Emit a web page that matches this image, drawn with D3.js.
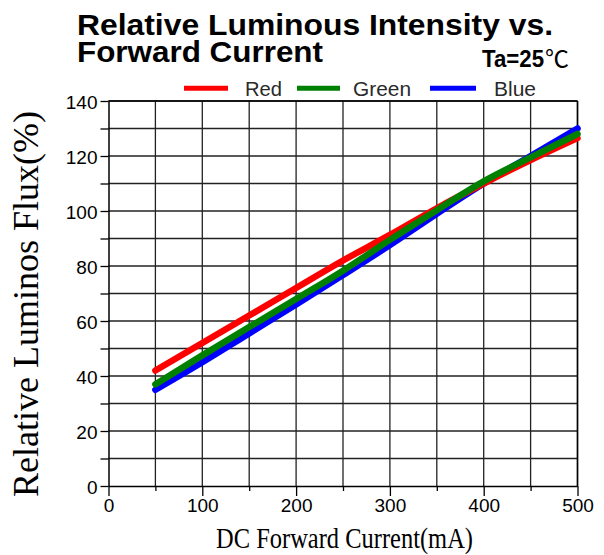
<!DOCTYPE html>
<html><head><meta charset="utf-8">
<script src="https://cdn.jsdelivr.net/npm/d3@7"></script>
<style>body{margin:0;background:#fff}svg{display:block}</style>
</head><body>
<script>
const currents = [50, 100, 150, 200, 250, 300, 350, 400, 450, 500];
const redVals   = [42, 52, 62, 72, 82, 91.3, 101, 110, 118.5, 126.5];
const greenVals = [37, 47.5, 57.8, 68, 78.3, 89.5, 100.3, 110.8, 119.5, 128];
const blueVals  = [35, 45, 55.5, 66, 76.7, 87.6, 99, 110, 120, 130];
const seriesNames = ["Red", "Green", "Blue"];
const seriesColors = ["#ff0000", "#008000", "#0000ff"];
const xTicks = [0, 50, 100, 150, 200, 250, 300, 350, 400, 450, 500];
const yTicks = [0, 10, 20, 30, 40, 50, 60, 70, 80, 90, 100, 110, 120, 130, 140];

const W = 604, H = 555;
const svg = d3.select("body").append("svg").attr("width", W).attr("height", H);
const x = d3.scaleLinear().domain([0, 500]).range([108.5, 577.5]);
const y = d3.scaleLinear().domain([0, 140]).range([486, 101]);

// grid
const g = svg.append("g");
g.selectAll(".vg").data(xTicks.filter(d => d > 0)).join("line")
  .attr("x1", d => x(d)).attr("x2", d => x(d)).attr("y1", y(140)).attr("y2", y(0))
  .attr("stroke", "#222").attr("stroke-width", 1.3);
g.selectAll(".hg").data(yTicks.filter(d => d > 0)).join("line")
  .attr("x1", x(0)).attr("x2", x(500)).attr("y1", d => y(d)).attr("y2", d => y(d))
  .attr("stroke", "#222").attr("stroke-width", 1.3);

// axes
const yAxis = d3.axisLeft(y).tickValues(yTicks)
  .tickFormat(d => d % 20 === 0 ? d : "").tickSizeInner(8).tickSizeOuter(0).tickPadding(3);
const ya = svg.append("g").attr("transform", `translate(${x(0)},0)`).call(yAxis);
ya.select(".domain").attr("stroke", "#000").attr("stroke-width", 1.5);
ya.selectAll(".tick line").attr("stroke", "#000").attr("stroke-width", 1.3);
ya.selectAll("text").attr("font-family", "Liberation Sans, Arial, sans-serif")
  .attr("font-size", 19).attr("fill", "#000").attr("dy", "0.38em");

const xAxis = d3.axisBottom(x).tickValues(xTicks)
  .tickFormat(d => d % 100 === 0 ? d : "").tickSizeInner(10).tickSizeOuter(0).tickPadding(3);
const xa = svg.append("g").attr("transform", `translate(0,${y(0)})`).call(xAxis);
xa.select(".domain").attr("stroke", "#000").attr("stroke-width", 1.5);
xa.selectAll(".tick line").attr("stroke", "#000").attr("stroke-width", 1.3)
  .attr("y2", d => d % 100 === 0 ? 10 : 5);
xa.selectAll("text").attr("font-family", "Liberation Sans, Arial, sans-serif")
  .attr("font-size", 19).attr("fill", "#000");

// frame top/right
svg.append("line").attr("x1", x(0)).attr("x2", x(500)).attr("y1", y(140)).attr("y2", y(140))
  .attr("stroke", "#000").attr("stroke-width", 1.5);
svg.append("line").attr("x1", x(500)).attr("x2", x(500)).attr("y1", y(140)).attr("y2", y(0))
  .attr("stroke", "#000").attr("stroke-width", 1.5);

// lines
const line = d3.line().x((d, i) => x(currents[i])).y(d => y(d)).curve(d3.curveMonotoneX);
const drawOrder = [[blueVals, 2], [redVals, 0], [greenVals, 1]];
drawOrder.forEach(([vals, ci]) => {
  svg.append("path").attr("d", line(vals)).attr("fill", "none")
    .attr("stroke", seriesColors[ci]).attr("stroke-width", 6.5)
    .attr("stroke-linecap", "round").attr("stroke-linejoin", "round");
});

// legend
const legendX = [184, 297, 430];
const legendLen = [44, 43, 46];
const legendTextX = [245, 353, 494];
const legendTextW = [37, 58, 42];
seriesNames.forEach((n, i) => {
  svg.append("line").attr("x1", legendX[i]).attr("x2", legendX[i] + legendLen[i])
    .attr("y1", 88.3).attr("y2", 88.3).attr("stroke", seriesColors[i]).attr("stroke-width", 5);
  svg.append("text").attr("x", legendTextX[i]).attr("y", 95.7).text(n)
    .attr("font-family", "Liberation Sans, Arial, sans-serif").attr("font-size", 20)
    .attr("textLength", legendTextW[i]).attr("lengthAdjust", "spacingAndGlyphs").attr("fill", "#2a2a2a");
});

// titles
svg.append("text").attr("x", 77).attr("y", 34.5).text("Relative Luminous Intensity vs.")
  .attr("font-family", "Liberation Sans, Arial, sans-serif").attr("font-weight", "bold")
  .attr("font-size", 30).attr("textLength", 476).attr("lengthAdjust", "spacingAndGlyphs");
svg.append("text").attr("x", 77).attr("y", 61.7).text("Forward Current")
  .attr("font-family", "Liberation Sans, Arial, sans-serif").attr("font-weight", "bold")
  .attr("font-size", 30).attr("textLength", 246).attr("lengthAdjust", "spacingAndGlyphs");
svg.append("text").attr("x", 482).attr("y", 66.7).text("Ta=25")
  .attr("font-family", "Liberation Sans, Arial, sans-serif").attr("font-weight", "bold")
  .attr("font-size", 23.5).attr("textLength", 62).attr("lengthAdjust", "spacingAndGlyphs");
svg.append("text").attr("x", 545).attr("y", 67).text("℃")
  .attr("font-family", "Noto Sans CJK SC, Noto Sans CJK JP, sans-serif")
  .attr("font-size", 23).attr("textLength", 24).attr("lengthAdjust", "spacingAndGlyphs");

// axis titles
svg.append("text").attr("x", 344.5).attr("y", 548).attr("text-anchor", "middle")
  .text("DC Forward Current(mA)")
  .attr("font-family", "Liberation Serif, Times New Roman, serif").attr("font-size", 29)
  .attr("textLength", 257).attr("lengthAdjust", "spacingAndGlyphs");
svg.append("text").attr("transform", "translate(37.5,304) rotate(-90)").attr("text-anchor", "middle")
  .text("Relative Luminos Flux(%)")
  .attr("font-family", "Liberation Serif, Times New Roman, serif").attr("font-size", 35)
  .attr("textLength", 386).attr("lengthAdjust", "spacingAndGlyphs");
</script>
</body></html>
